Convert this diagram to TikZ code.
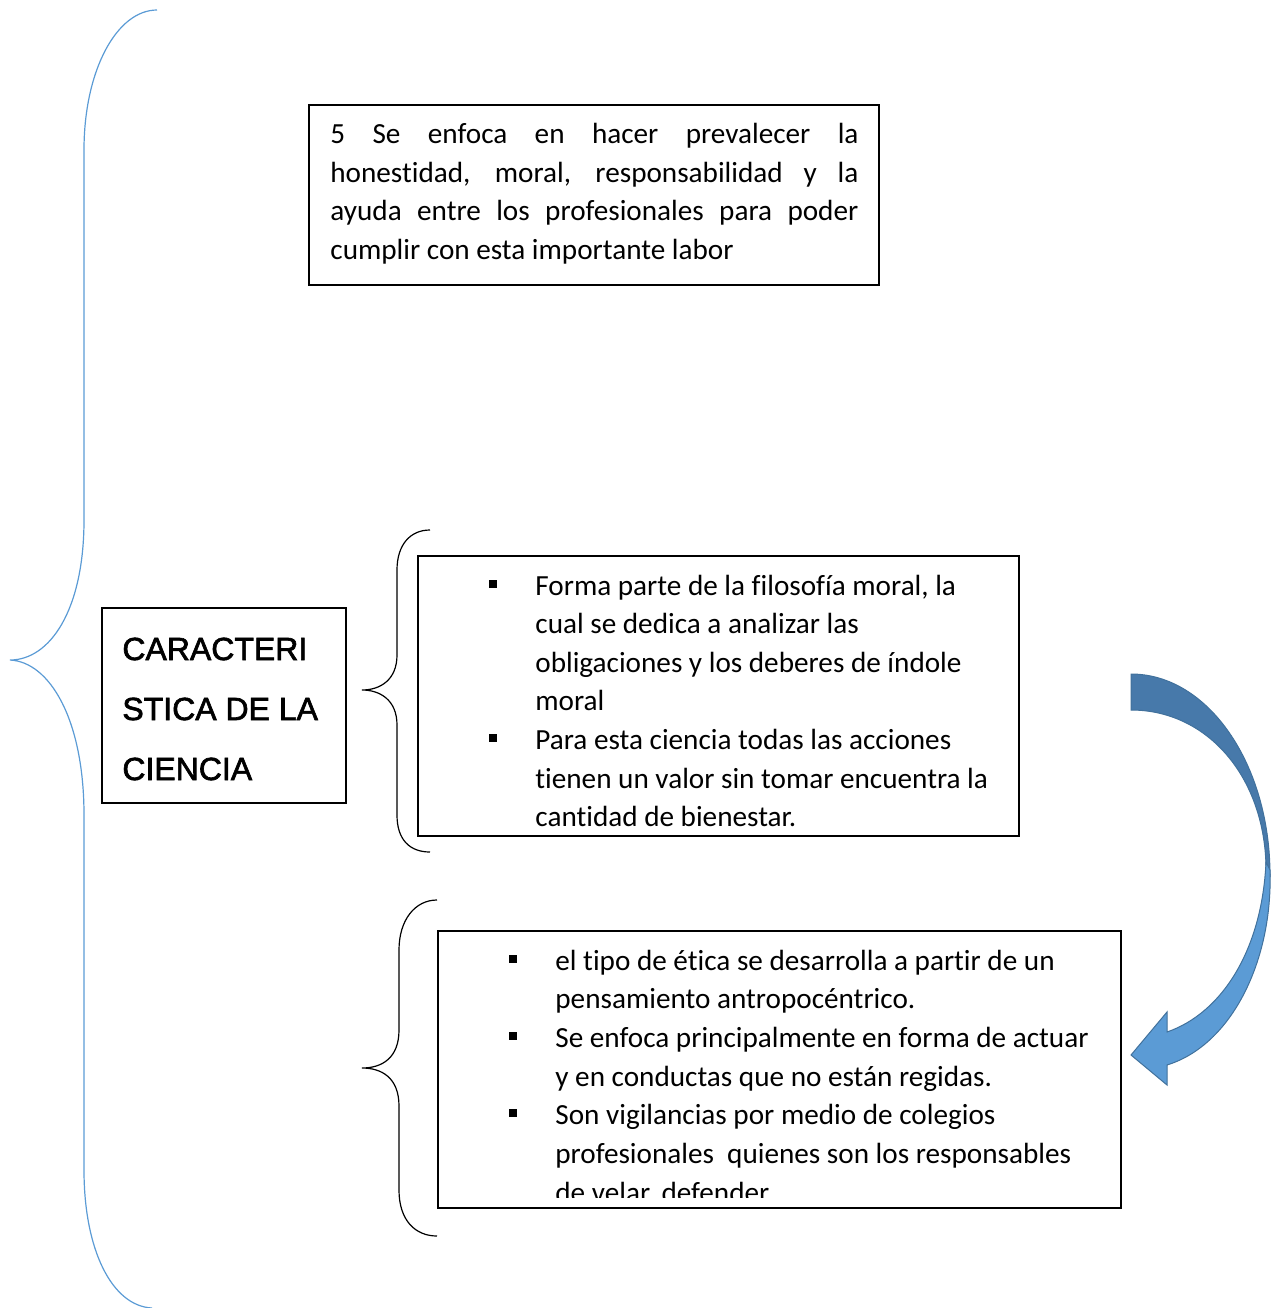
\documentclass[tikz,border=0pt]{standalone}
\usepackage{fontspec}
\setmainfont[Ligatures={NoCommon,NoRequired,NoContextual},RawFeature={-liga;-clig;-dlig}]{Carlito}
\newfontfamily\arialf[FakeBold=2]{Liberation Sans}
\definecolor{braceblue}{RGB}{91,155,213}
\definecolor{arrdark}{RGB}{71,121,170}
\definecolor{arrlight}{RGB}{91,155,213}
\definecolor{arredge}{RGB}{65,113,156}
\tikzset{
  box/.style={draw, line width=0.6pt, rectangle, inner sep=0pt},
  txt/.style={anchor=base west, inner sep=0pt, font=\fontsize{14.6}{19}\selectfont},
  ttl/.style={anchor=base west, inner sep=0pt, font=\arialf\fontsize{16}{19}\selectfont},
  bul/.style={fill=black, minimum size=3.6pt, inner sep=0pt},
  bigbrace/.style={draw=braceblue, line width=0.6pt},
  smallbrace/.style={draw=black, line width=0.6pt},
}
\begin{document}
\begin{tikzpicture}[x=0.5pt, y=-0.5pt]
\useasboundingbox (0,0) rectangle (1277,1308);
% big brace
\draw[bigbrace] (157,10) .. controls (117,10) and (84,70) .. (84,150) -- (84,520)
  .. controls (84,610) and (50,660) .. (10,660)
  .. controls (50,662) and (84,720) .. (84,815) -- (84,1170)
  .. controls (84,1250) and (112,1306) .. (152,1308);
% middle brace
\draw[smallbrace] (430,530) .. controls (410,530) and (397,545) .. (397,570) -- (397,655)
  .. controls (397,680) and (380,690) .. (362,690)
  .. controls (380,690) and (397,700) .. (397,725) -- (397,815)
  .. controls (397,840) and (410,852) .. (430,852);
% lower brace
\draw[smallbrace] (437,900) .. controls (415,900) and (399,920) .. (399,950) -- (399,1030)
  .. controls (399,1058) and (382,1068) .. (362,1068)
  .. controls (382,1068) and (399,1078) .. (399,1106) -- (399,1190)
  .. controls (399,1220) and (415,1236) .. (437,1236);

% boxes
\node[box, minimum width=285pt, minimum height=90pt] (topbox) at (594,195) {};
\node[box, minimum width=122pt, minimum height=97.5pt] (titlebox) at (224,705.5) {};
\node[box, minimum width=300.5pt, minimum height=140pt] (midbox) at (718.5,696) {};
\node[box, minimum width=341.5pt, minimum height=138.5pt] (lowbox) at (779.5,1069.5) {};

% top text
\node[txt] (t1) at (330,143) {\makebox[264pt][s]{5 Se enfoca en hacer prevalecer la}};
\node[txt] (t2) at (330,182) {\makebox[264pt][s]{honestidad, moral, responsabilidad y la}};
\node[txt] (t3) at (330,220) {\makebox[264pt][s]{ayuda entre los profesionales para poder}};
\node[txt] (t4) at (330,259) {cumplir con esta importante labor};

% title
\node[ttl] (c1) at (122,660) {CARACTERI};
\node[ttl] (c2) at (122,720) {STICA DE LA};
\node[ttl] (c3) at (122,780) {CIENCIA};

% middle text
\node[bul] (mb1) at (493,584) {};
\node[bul] (mb2) at (493,738) {};
\node[txt] (m1) at (535,595) {Forma parte de la filosofía moral, la};
\node[txt] (m2) at (535,633) {cual se dedica a analizar las};
\node[txt] (m3) at (535,672) {obligaciones y los deberes de índole};
\node[txt] (m4) at (535,710) {moral};
\node[txt] (m5) at (535,749) {Para esta ciencia todas las acciones};
\node[txt] (m6) at (535,788) {tienen un valor sin tomar encuentra la};
\node[txt] (m7) at (535,826) {cantidad de bienestar.};

% lower text
\node[bul] (lb1) at (513,959) {};
\node[bul] (lb2) at (513,1036) {};
\node[bul] (lb3) at (513,1113) {};
\node[txt] (l1) at (555,970) {el tipo de ética se desarrolla a partir de un};
\node[txt] (l2) at (555,1008) {pensamiento antropocéntrico.};
\node[txt] (l3) at (555,1047) {Se enfoca principalmente en forma de actuar};
\node[txt] (l4) at (555,1086) {y en conductas que no están regidas.};
\node[txt] (l5) at (555,1124) {Son vigilancias por medio de colegios};
\node[txt] (l6) at (555,1163) {profesionales\ \ quienes son los responsables};
\begin{scope}
\clip (440,1150) rectangle (1119,1197);
\node[txt] (l7) at (555,1202) {de velar, defender.};
\end{scope}

% curved arrow
\draw[fill=arrdark, draw=arredge, line width=0.5pt]
  (1131,674) .. controls (1208,674) and (1270,764) .. (1270,875)
  -- (1266,866) .. controls (1264,775) and (1206,710) .. (1131,710) -- cycle;
\draw[fill=arrlight, draw=arredge, line width=0.5pt]
  (1270,870) .. controls (1273,960) and (1232,1045) .. (1167,1065)
  -- (1167,1085) -- (1131,1055) -- (1167,1012) -- (1167,1032)
  .. controls (1222,1013) and (1262,950) .. (1266,862) -- cycle;
\end{tikzpicture}
\end{document}
